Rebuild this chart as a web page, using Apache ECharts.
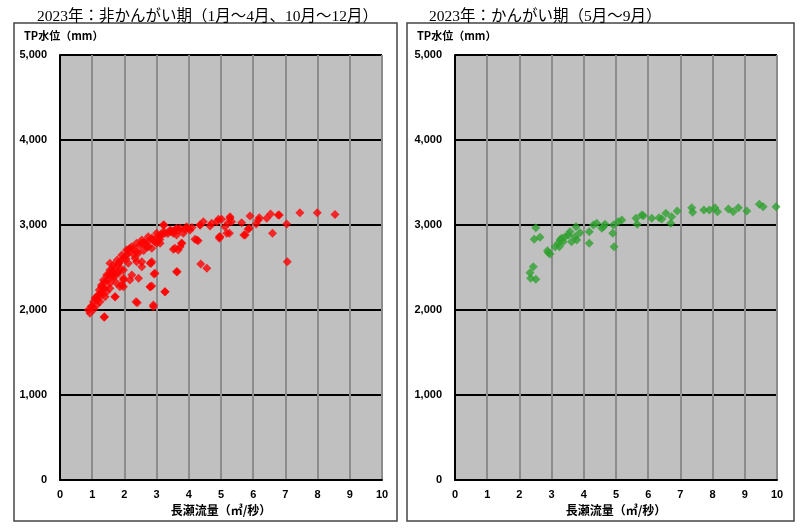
<!DOCTYPE html>
<html>
<head>
<meta charset="utf-8">
<script src="https://cdn.jsdelivr.net/npm/echarts@6/dist/echarts.min.js"></script>
<style>
  html, body { margin: 0; padding: 0; background: #fff; }
  #chart { width: 800px; height: 532px; }
</style>
</head>
<body>
<div id="chart"></div>
<script>
// 非かんがい期（1月～4月、10月～12月）: 長瀬流量 / TP水位
const nonIrrFlow = [
  0.93, 0.88, 0.98, 1.09, 1.37, 1.19, 1.29, 1.40, 1.50, 1.61, 1.71, 1.81, 1.92, 1.97, 2.07, 2.17,
  2.36, 2.44, 2.54, 2.54, 2.80, 2.83, 2.90, 2.95, 3.26, 3.62, 3.73, 2.74, 3.11, 3.52, 2.85, 1.66,
  1.86, 1.76, 1.45, 1.55, 1.24, 1.14, 1.40, 1.55, 1.76, 1.97, 2.23, 2.12, 2.33, 2.43, 2.69, 1.97,
  2.12, 3.23, 2.85, 2.95, 3.11, 3.26, 3.42, 3.57, 3.73, 3.88, 4.04, 3.83, 3.62, 3.78, 3.52, 3.67,
  4.19, 4.29, 4.35, 4.45, 4.71, 4.66, 4.92, 5.02, 5.28, 5.23, 5.12, 5.26, 4.95, 4.95, 5.64, 5.88,
  5.75, 5.90, 6.09, 6.16, 6.42, 6.54, 6.78, 6.60, 4.37, 4.56, 3.64, 3.26, 2.92, 2.85, 2.90, 2.85,
  7.45, 7.99, 8.54, 7.04, 7.06, 6.81, 6.19, 5.84, 5.71, 5.33,
  0.98, 1.04, 1.12, 1.22, 1.29, 1.35, 1.45, 1.55, 1.66, 1.78, 1.92, 2.07, 2.23, 2.38, 2.54, 2.74,
  3.00, 3.21, 3.42, 3.62, 3.93, 3.21, 1.40, 1.55, 1.66, 1.81, 1.97, 2.17, 2.38, 2.54, 2.80, 2.40,
  2.80, 1.38, 1.71, 1.92, 2.38, 2.74, 3.00, 3.57, 3.78, 4.25, 4.97, 5.18, 4.35, 4.87, 5.28,
  1.05, 1.17, 1.26, 1.33, 1.48, 1.58, 1.70, 1.84, 2.00, 2.15, 2.28, 2.48, 2.62, 2.88, 3.05, 3.15,
  3.35, 3.47, 3.68, 3.98, 4.10, 1.30, 1.62, 1.88, 2.05, 2.30, 2.60, 3.10
];
const nonIrrLevel = [
  1961, 2000, 2047, 2137, 1914, 2176, 2274, 2333, 2412, 2471, 2157, 2529, 2588, 2274, 2647, 2726,
  2098, 2373, 2569, 2784, 2274, 2549, 2039, 2431, 2216, 2451, 2745, 2804, 2784, 2902, 2726, 2373,
  2274, 2314, 2216, 2255, 2098, 2059, 2157, 2549, 2431, 2471, 2412, 2549, 2608, 2667, 2745, 2353,
  2706, 3000, 2843, 2804, 2863, 2902, 2922, 2941, 2961, 2949, 2941, 2902, 2882, 2784, 2714, 2706,
  2831, 2816, 3000, 3039, 3020, 2988, 3067, 3067, 3098, 3027, 2980, 2902, 2863, 2843, 3027, 2961,
  2882, 3106, 3012, 3059, 3079, 3129, 3118, 2902, 2541, 2490, 2451, 2216, 2424, 2282, 2059, 2569,
  3145, 3145, 3125, 3012, 2569, 3118, 3086, 2949, 2882, 3039,
  2039, 2098, 2149, 2235, 2294, 2353, 2412, 2471, 2529, 2588, 2647, 2706, 2745, 2784, 2824, 2863,
  2902, 2922, 2941, 2961, 2980, 3000, 2255, 2314, 2392, 2431, 2373, 2353, 2569, 2510, 2549, 2086,
  2274, 1922, 2157, 2294, 2686, 2745, 2784, 2726, 2784, 2824, 2863, 2902, 3000, 3039, 3079,
  2010, 2120, 2200, 2260, 2350, 2420, 2490, 2560, 2620, 2680, 2720, 2760, 2800, 2830, 2870, 2890,
  2900, 2930, 2940, 2960, 2970, 2180, 2420, 2480, 2600, 2650, 2700, 2830
];

// かんがい期（5月～9月）
const irrFlow = [
  2.51, 2.46, 2.64, 2.43, 2.33, 2.35, 2.51, 2.90, 2.95, 2.87, 3.11, 3.21, 3.26, 3.31, 3.36, 3.24,
  3.42, 3.52, 3.57, 3.62, 3.73, 3.78, 3.76, 3.88, 4.17, 4.17, 4.30, 4.40, 4.56, 4.66, 4.92, 4.90,
  4.94, 5.07, 4.61, 5.18, 5.62, 5.66, 5.80, 5.85, 6.11, 6.34, 6.42, 6.55, 6.73, 6.70, 6.90, 7.35,
  7.38, 7.73, 7.90, 8.07, 8.15, 8.49, 8.64, 8.80, 9.06, 9.45, 9.57, 9.97
];
const irrLevel = [
  2968, 2831, 2855, 2510, 2439, 2373, 2361, 2674, 2659, 2698, 2745, 2784, 2824, 2843, 2804, 2745,
  2863, 2882, 2922, 2804, 2863, 2824, 2980, 2910, 2922, 2784, 3000, 3020, 2961, 3008, 3000, 2902,
  2745, 3039, 2980, 3059, 3079, 3008, 3118, 3110, 3079, 3086, 3071, 3138, 3098, 3020, 3165, 3204,
  3149, 3176, 3176, 3204, 3157, 3188, 3157, 3204, 3165, 3243, 3216, 3216
];

const xTicks = [0, 1, 2, 3, 4, 5, 6, 7, 8, 9, 10];
const yTicks = [0, 1000, 2000, 3000, 4000, 5000];

function pairs(xs, ys) {
  return xs.map((x, i) => [x, ys[i]]);
}

const labelFont = { color: "#000", fontSize: 11, fontWeight: "bold", fontFamily: "Liberation Sans, Noto Sans CJK JP" };

function xAxisOf(gridIndex) {
  return {
    gridIndex: gridIndex,
    type: "value",
    min: xTicks[0],
    max: xTicks[xTicks.length - 1],
    interval: 1,
    name: "長瀬流量（㎥/秒）",
    nameLocation: "middle",
    nameGap: 24,
    nameTextStyle: { color: "#000", fontSize: 12, fontWeight: "bold", fontFamily: "Noto Sans CJK JP" },
    axisLine: { lineStyle: { color: "#000", width: 2 } },
    axisTick: { show: false },
    axisLabel: Object.assign({ margin: 9 }, labelFont),
    splitLine: { show: true, lineStyle: { color: "#8c8c8c", width: 2 } }
  };
}

function yAxisOf(gridIndex) {
  return {
    gridIndex: gridIndex,
    type: "value",
    min: yTicks[0],
    max: yTicks[yTicks.length - 1],
    interval: 1000,
    axisLine: { show: true, lineStyle: { color: "#000", width: 2 } },
    axisTick: { show: false },
    axisLabel: Object.assign({
      margin: 13,
      formatter: v => v.toLocaleString("en-US")
    }, labelFont),
    splitLine: { show: true, lineStyle: { color: "#000", width: 2 } }
  };
}

const titleFont = { color: "#000", fontSize: 15.5, fontWeight: "normal", fontFamily: "Liberation Serif, Noto Sans CJK JP" };
const yNameFont = { fill: "#000", fontSize: 11, fontWeight: "bold", fontFamily: "Noto Sans CJK JP" };

const chart = echarts.init(document.getElementById("chart"));
chart.setOption({
  animation: false,
  backgroundColor: "#fff",
  title: [
    { text: "2023年：非かんがい期（1月～4月、10月～12月）", left: 32, top: 4, textStyle: titleFont },
    { text: "2023年：かんがい期（5月～9月）", left: 424, top: 4, textStyle: titleFont }
  ],
  grid: [
    { left: 60, width: 322, top: 55, height: 425, show: true, backgroundColor: "#c0c0c0", borderColor: "#8c8c8c", borderWidth: 1 },
    { left: 455, width: 322, top: 55, height: 425, show: true, backgroundColor: "#c0c0c0", borderColor: "#8c8c8c", borderWidth: 1 }
  ],
  xAxis: [xAxisOf(0), xAxisOf(1)],
  yAxis: [yAxisOf(0), yAxisOf(1)],
  graphic: [
    { type: "rect", shape: { x: 14, y: 23, width: 383, height: 498 }, style: { fill: "none", stroke: "#444", lineWidth: 1.5 }, z: -1 },
    { type: "rect", shape: { x: 407, y: 23, width: 387, height: 498 }, style: { fill: "none", stroke: "#444", lineWidth: 1.5 }, z: -1 },
    { type: "text", left: 24, top: 30, style: Object.assign({ text: "TP水位（mm）" }, yNameFont) },
    { type: "text", left: 417, top: 30, style: Object.assign({ text: "TP水位（mm）" }, yNameFont) }
  ],
  series: [
    {
      name: "非かんがい期",
      type: "scatter",
      xAxisIndex: 0,
      yAxisIndex: 0,
      symbol: "diamond",
      symbolSize: 9,
      itemStyle: { color: "#ff0000" },
      data: pairs(nonIrrFlow, nonIrrLevel)
    },
    {
      name: "かんがい期",
      type: "scatter",
      xAxisIndex: 1,
      yAxisIndex: 1,
      symbol: "diamond",
      symbolSize: 9,
      itemStyle: { color: "#30a030" },
      data: pairs(irrFlow, irrLevel)
    }
  ]
});
</script>
</body>
</html>
